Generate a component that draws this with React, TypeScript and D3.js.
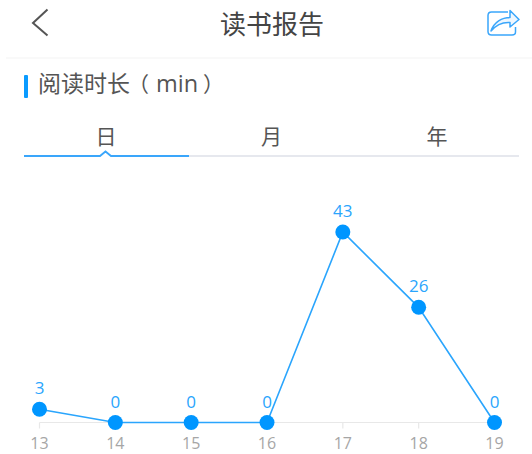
import * as d3 from 'd3';

const days = ['13', '14', '15', '16', '17', '18', '19'];
const minutes = [3, 0, 0, 0, 43, 26, 0];
const tabs = ['日', '月', '年'];

const width = 532;
const height = 454;
const BLUE = '#0a9bff';
const FONT = '"Noto Sans CJK SC", "Noto Sans", sans-serif';
const LATIN = '"Open Sans", "Noto Sans", sans-serif';

export default function App() {
  const x = d3.scalePoint<string>().domain(days).range([39.5, 494.5]);
  const y = d3.scaleLinear().domain([0, 43]).range([422.5, 232]);

  const line = d3.line<number>()
    .x((_, i) => x(days[i]) as number)
    .y(d => y(d));

  const tabX = d3.scalePoint<string>().domain(tabs).range([106, 437]);

  return (
    <svg
      width={width}
      height={height}
      style={{ position: 'absolute', left: 0, top: 0, background: '#fff' }}
      fontFamily={FONT}
    >
      {/* header */}
      <path d="M47.5 9.5 L33 23 L47.5 35.5" fill="none" stroke="#555" strokeWidth={2} />
      <text x={272} y={33.5} textAnchor="middle" fontSize={26} fill="#444">读书报告</text>
      <path
        d="M508 12 H491.5 Q488 12 488 15.5 V31.5 Q488 35 491.5 35 H512 Q515.5 35 515.5 32 V27"
        fill="none" stroke="#3aa6fb" strokeWidth={1.5}
      />
      <path
        d="M491 31 C494 22 502 17.5 510 17.5 V10.5 L519 19.5 L510 27 V22.5 C503 22 496 25 491 31 Z"
        fill="#eef7ff" stroke="#3aa6fb" strokeWidth={1.5} strokeLinejoin="round"
      />
      <line x1={6} x2={532} y1={58} y2={58} stroke="#f3f3f3" strokeWidth={1.2} />

      {/* section title */}
      <rect x={24} y={75} width={4} height={23} rx={1} fill={BLUE} />
      <text x={38} y={92} fontSize={23} fill="#555">阅读时长</text>
      <text x={128} y={92} fontSize={21} fill="#555">（</text>
      <text x={156} y={92} fontSize={23.5} fontFamily={LATIN} fill="#555">min</text>
      <text x={203} y={92} fontSize={21} fill="#555">）</text>

      {/* tabs */}
      {tabs.map(t => (
        <text key={t} x={tabX(t)} y={144} textAnchor="middle" fontSize={21} fill="#555">{t}</text>
      ))}
      <line x1={189} x2={519} y1={156} y2={156} stroke="#e6e8ee" strokeWidth={2} />
      <path
        d="M24 156 H100 L105.5 151.5 L111 156 H189"
        fill="none" stroke="#3aa6fb" strokeWidth={1.8}
      />

      {/* axis */}
      <line x1={x('13')} x2={x('19')} y1={y(0)} y2={y(0)} stroke="#e8e8e8" strokeWidth={1.2} />
      {days.map(d => (
        <g key={d}>
          <line x1={x(d)} x2={x(d)} y1={y(0)} y2={y(0) + 6} stroke="#e8e8e8" strokeWidth={1.2} />
          <text x={x(d)} y={449} textAnchor="middle" fontSize={16} fontFamily={LATIN} fill="#a6a6a6">{d}</text>
        </g>
      ))}

      {/* series */}
      <path d={line(minutes) as string} fill="none" stroke="#2aa5fd" strokeWidth={1.6} />
      {minutes.map((v, i) => (
        <g key={days[i]}>
          <circle cx={x(days[i])} cy={y(v)} r={7.5} fill="#0096ff" />
          <text x={x(days[i])} y={y(v) - 15} textAnchor="middle" fontSize={17} fontFamily={LATIN} fill="#2aa5fd">{v}</text>
        </g>
      ))}
    </svg>
  );
}
